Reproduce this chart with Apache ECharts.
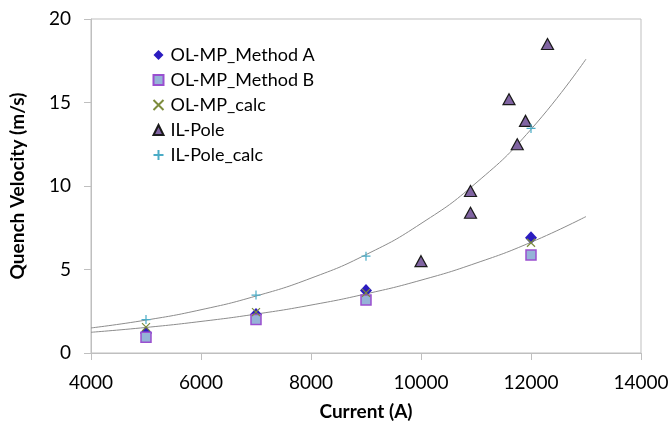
<!DOCTYPE html>
<html><head><meta charset="utf-8">
<script src="https://cdn.jsdelivr.net/npm/echarts@6/dist/echarts.min.js"></script>
<style>html,body{margin:0;padding:0;background:#fff}#c{width:671px;height:425px}</style>
</head><body><div id="c"></div>
<script>
const xTicks = [4000, 6000, 8000, 10000, 12000, 14000];
const yTicks = [0, 5, 10, 15, 20];

const methodA = [[5000, 1.2], [7000, 2.3], [9000, 3.75], [12000, 6.9]];
const methodB = [[5000, 0.95], [7000, 2.0], [9000, 3.17], [12000, 5.87]];
const olmpCalc = [[5000, 1.55], [7000, 2.45], [9000, 3.6], [12000, 6.6]];
const ilPole = [[10000, 5.5], [10900, 8.4], [10900, 9.7], [11600, 15.2], [11750, 12.5], [11900, 13.9], [12300, 18.5]];
const ilPoleCalc = [[5000, 2.0], [7000, 3.47], [9000, 5.8], [12000, 13.45]];

// trend curves
const trendX = [4000, 5000, 6000, 7000, 8000, 9000, 10000, 11000, 12000, 13000];
const trendOL = [1.24, 1.53, 1.89, 2.33, 2.87, 3.54, 4.36, 5.38, 6.63, 8.17];
const trendIL = [1.5, 1.97, 2.59, 3.41, 4.48, 5.89, 7.75, 10.18, 13.39, 17.6];

const FONT = 'Lato';
const crossPath = 'path://M0,0L10,10M10,0L0,10';
const plusPath = 'path://M5,0L5,10M0,5L10,5';

const chart = echarts.init(document.getElementById('c'), null, {renderer: 'canvas'});
chart.setOption({
  animation: false,
  grid: {left: 91, right: 30, top: 19, bottom: 72, show: true, borderColor: '#BFBFBF', borderWidth: 1,
         containLabel: false, outerBoundsMode: 'none'},
  legend: {
    orient: 'vertical', left: 146, top: 41, itemWidth: 10, itemHeight: 10, itemGap: 7,
    data: ['OL-MP_Method A', 'OL-MP_Method B', 'OL-MP_calc', 'IL-Pole', 'IL-Pole_calc'],
    textStyle: {fontFamily: FONT, fontSize: 18, color: '#000', lineHeight: 16, padding: [0, 0, 0, 2]}
  },
  xAxis: {
    type: 'value', min: xTicks[0], max: xTicks[xTicks.length - 1], interval: 2000,
    name: 'Current (A)', nameLocation: 'middle', nameGap: 49,
    nameTextStyle: {fontFamily: FONT, fontSize: 19, fontWeight: 'bold', color: '#000'},
    axisLine: {show: true, lineStyle: {color: '#BFBFBF'}},
    axisTick: {show: true, length: 7, lineStyle: {color: '#BFBFBF'}},
    axisLabel: {fontFamily: FONT, fontSize: 19, color: '#000', margin: 20, formatter: v => String(v)},
    splitLine: {show: false}
  },
  yAxis: {
    type: 'value', min: yTicks[0], max: yTicks[yTicks.length - 1], interval: 5,
    name: 'Quench Velocity (m/s)', nameLocation: 'middle', nameGap: 64,
    nameTextStyle: {fontFamily: FONT, fontSize: 19, fontWeight: 'bold', color: '#000'},
    axisLine: {show: true, lineStyle: {color: '#BFBFBF'}},
    axisTick: {show: true, length: 7, lineStyle: {color: '#BFBFBF'}},
    axisLabel: {fontFamily: FONT, fontSize: 19, color: '#000', margin: 20},
    splitLine: {show: false}
  },
  series: [
    {type: 'line', name: 'trendOL', data: trendX.map((x, i) => [x, trendOL[i]]), smooth: true, symbol: 'none', silent: true,
     lineStyle: {color: '#8C8C8C', width: 1}, z: 1},
    {type: 'line', name: 'trendIL', data: trendX.map((x, i) => [x, trendIL[i]]), smooth: true, symbol: 'none', silent: true,
     lineStyle: {color: '#8C8C8C', width: 1}, z: 1},
    {type: 'scatter', name: 'OL-MP_Method A', data: methodA, symbol: 'diamond', symbolSize: [12, 13],
     itemStyle: {color: '#2B1CC0', opacity: 1}, z: 2},
    {type: 'scatter', name: 'OL-MP_Method B', data: methodB, symbol: 'rect', symbolSize: 10,
     itemStyle: {color: '#95B3D7', borderColor: '#9A4FD0', borderWidth: 1.5, opacity: 1}, z: 3},
    {type: 'scatter', name: 'OL-MP_calc', data: olmpCalc, symbol: crossPath, symbolSize: 8,
     itemStyle: {color: 'none', borderColor: '#7D8C3C', borderWidth: 1.2, opacity: 1}, z: 4},
    {type: 'scatter', name: 'IL-Pole', data: ilPole, symbol: 'triangle', symbolSize: [12, 11],
     itemStyle: {color: '#8064A2', borderColor: '#1A1A1A', borderWidth: 1.2, opacity: 1}, z: 5},
    {type: 'scatter', name: 'IL-Pole_calc', data: ilPoleCalc, symbol: plusPath, symbolSize: 9,
     itemStyle: {color: 'none', borderColor: '#4BACC6', borderWidth: 1.2, opacity: 1}, z: 6}
  ]
});
</script></body></html>
